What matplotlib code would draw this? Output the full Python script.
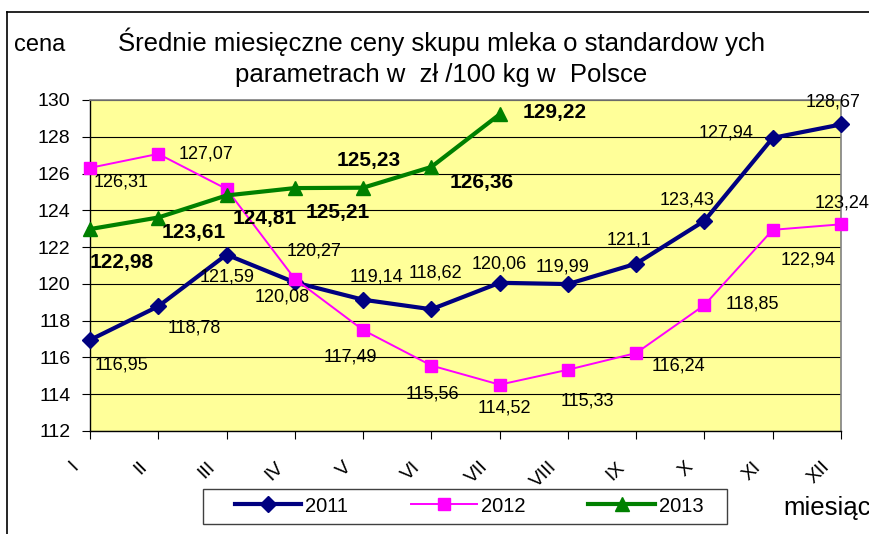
import numpy as np
import matplotlib
matplotlib.use("Agg")
import matplotlib.pyplot as plt
from matplotlib.lines import Line2D
from matplotlib.patches import Rectangle
from matplotlib.transforms import ScaledTranslation

plt.rcParams['font.family'] = ['Liberation Sans', 'DejaVu Sans']

months = ["I", "II", "III", "IV", "V", "VI", "VII", "VIII", "IX", "X", "XI", "XII"]
prices_2011 = [116.95, 118.78, 121.59, 120.08, 119.14, 118.62, 120.06, 119.99, 121.1, 123.43, 127.94, 128.67]
prices_2012 = [126.31, 127.07, 125.16, 120.27, 117.49, 115.56, 114.52, 115.33, 116.24, 118.85, 122.94, 123.24]
prices_2013 = [122.98, 123.61, 124.81, 125.21, 125.23, 126.36, 129.22]

# label offsets in pixels (dx right, dy down), None = no label
offs_2011 = [(32, 25), (36, 22), (1, 22), (-13, 15), (13, -23), (4, -36),
             (0, -19), (-5, -17), (-7, -24), (-17, -21), (-47, -5), (-8, -22)]
offs_2012 = [(31, 14), (48, 0), None, (19, -28), (-13, 27), (1, 28),
             (5, 23), (19, 31), (42, 13), (48, -1), (35, 30), (1, -21)]
offs_2013 = [(32, 33), (35, 15), (38, 23), (43, 24), (6, -27), (50, 16), (55, -2)]

W, H = 869, 534
fig = plt.figure(figsize=(W / 100, H / 100), dpi=100)
ax = fig.add_axes([90 / W, 1 - 431 / H, (841 - 90) / W, (431 - 100) / H])
ax.set_facecolor('#FFFF99')


def fmt(v):
    s = ('%.2f' % v).rstrip('0').rstrip('.')
    return s.replace('.', ',')


def draw_series(vals, offs, color, marker, ms, lw, label, bold):
    xs = np.arange(len(vals))
    ax.plot(xs, vals, color=color, marker=marker, markersize=ms, linewidth=lw,
            label=label, clip_on=False, zorder=3)
    for xi, v, o in zip(xs, vals, offs):
        if o is None:
            continue
        ax.annotate(fmt(v), (xi, v), xytext=(o[0], -o[1]), textcoords='offset pixels',
                    ha='center', va='center', fontsize=15 if bold else 13,
                    fontweight='bold' if bold else 'normal', color='black',
                    annotation_clip=False, zorder=5)


draw_series(prices_2011, offs_2011, '#000080', 'D', 8, 3, '2011', False)
draw_series(prices_2012, offs_2012, '#FF00FF', 's', 9, 1.4, '2012', False)
draw_series(prices_2013, offs_2013, '#008000', '^', 9.5, 3, '2013', True)

ax.set_xlim(0, 11)
ax.set_ylim(112, 130)
ax.set_yticks(np.arange(112, 131, 2))
ax.set_xticks(np.arange(12))
ax.set_xticklabels(months, rotation=45, ha='right', va='center', rotation_mode='anchor')
ax.grid(axis='y', color='black', linewidth=0.8)
ax.set_axisbelow(True)
for side in ['top', 'right']:
    ax.spines[side].set_color('#808080')
    ax.spines[side].set_linewidth(1.2)
for side in ['left', 'bottom']:
    ax.spines[side].set_color('black')
    ax.spines[side].set_linewidth(1.0)
ax.tick_params(axis='both', direction='out', length=6, width=0.8, labelsize=14)
ax.tick_params(axis='y', pad=8)
ax.tick_params(axis='x', pad=18)
for lbl in ax.get_xticklabels():
    lbl.set_transform(lbl.get_transform() + ScaledTranslation(-0.14, 0, fig.dpi_scale_trans))

# title and axis captions
fig.text(441 / W, 1 - 42 / H, "Średnie miesięczne ceny skupu mleka o standardow ych",
         ha='center', va='center', fontsize=18.5)
fig.text(441 / W, 1 - 75 / H, "parametrach w  zł /100 kg w  Polsce",
         ha='center', va='center', fontsize=18.5)
fig.text(14 / W, 1 - 45 / H, "cena", ha='left', va='center', fontsize=17)
fig.text(783 / W, 1 - 508 / H, "miesiąc", ha='left', va='center', fontsize=18.5)

# legend with a plain box
fig.patches.append(Rectangle((203 / W, 1 - 524 / H), (727 - 203) / W, 35 / H,
                             transform=fig.transFigure, facecolor='white',
                             edgecolor='#404040', linewidth=1, zorder=0))
fig.legend(loc='center left', bbox_to_anchor=(235 / W, 1 - 506 / H), ncol=3,
           frameon=False, fontsize=14.5, handlelength=3.3, handletextpad=0.2,
           columnspacing=3.1, borderpad=0, borderaxespad=0)

# outer chart border (clipped on the right and bottom)
fig.add_artist(Line2D([7 / W, 7 / W], [0, 1 - 12 / H], transform=fig.transFigure,
                      color='black', linewidth=1.2))
fig.add_artist(Line2D([7 / W, 1], [1 - 12 / H, 1 - 12 / H], transform=fig.transFigure,
                      color='black', linewidth=1.2))

fig.savefig('out.png', dpi=100)
